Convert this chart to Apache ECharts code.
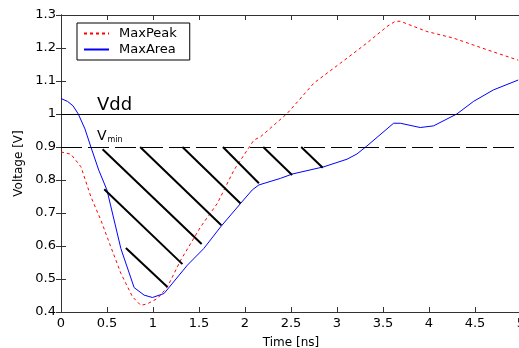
<!DOCTYPE html>
<html>
<head>
<meta charset="utf-8">
<script src="https://cdn.jsdelivr.net/npm/echarts@6/dist/echarts.min.js"></script>
<style>
  html, body { margin: 0; padding: 0; background: #fff; }
  #chart { width: 519px; height: 348px; }
</style>
</head>
<body>
<div id="chart"></div>
<script>
// time [ns] / voltage [V]
const peakT = [0, 0.108, 0.217, 0.325, 0.434, 0.542, 0.651, 0.777, 0.868, 0.94, 1.049, 1.157, 1.301, 1.518, 1.699, 1.88, 2.097, 2.169, 2.46, 2.75, 3.037, 3.325, 3.543, 3.633, 3.688, 3.977, 4.266, 4.628, 4.97];
const peakV = [0.885, 0.878, 0.84, 0.749, 0.678, 0.597, 0.517, 0.446, 0.42, 0.425, 0.441, 0.476, 0.557, 0.658, 0.729, 0.83, 0.921, 0.931, 1.002, 1.094, 1.154, 1.215, 1.265, 1.281, 1.281, 1.25, 1.23, 1.195, 1.163];

const areaT = [0, 0.072, 0.13, 0.188, 0.26, 0.325, 0.41, 0.499, 0.651, 0.795, 0.904, 0.994, 1.12, 1.374, 1.551, 1.735, 1.952, 2.079, 2.151, 2.386, 2.513, 2.856, 3.109, 3.217, 3.325, 3.615, 3.688, 3.905, 4.049, 4.302, 4.483, 4.7, 4.97];
const areaV = [1.047, 1.038, 1.025, 1.0, 0.955, 0.9, 0.83, 0.77, 0.592, 0.474, 0.451, 0.444, 0.456, 0.542, 0.592, 0.658, 0.729, 0.77, 0.785, 0.805, 0.818, 0.84, 0.863, 0.879, 0.903, 0.972, 0.972, 0.959, 0.964, 1.0, 1.038, 1.073, 1.103];

// hatch strokes between Vmin and the curve: [t1, v1, t2, v2]
const hatch = [
  [0.452, 0.893, 1.529, 0.606],
  [0.86, 0.9, 1.743, 0.663],
  [1.32, 0.9, 1.952, 0.729],
  [0.47, 0.772, 1.32, 0.545],
  [0.705, 0.594, 1.157, 0.476],
  [1.76, 0.9, 2.151, 0.79],
  [2.198, 0.9, 2.512, 0.815],
  [2.611, 0.9, 2.845, 0.837]
];

const vdd = 1.0;
const vmin = 0.9;

const font = 'DejaVu Sans';
const zip = (xs, ys) => xs.map((x, i) => [x, ys[i]]);

const chart = echarts.init(document.getElementById('chart'));

const sideAxis = {
  axisLine: { show: true, lineStyle: { color: '#333' } },
  axisTick: { show: true, inside: true, length: 5, lineStyle: { color: '#333' } },
  axisLabel: { show: false },
  splitLine: { show: false }
};

chart.setOption({
  animation: false,
  backgroundColor: '#fff',
  grid: { left: 61, right: -2, top: 15, bottom: 36, outerBoundsMode: 'none', containLabel: false },
  legend: {
    data: ['MaxPeak', 'MaxArea'],
    orient: 'vertical',
    left: 77,
    top: 23,
    padding: [4, 13, 4, 6],
    itemGap: 3,
    itemWidth: 25,
    itemHeight: 14,
    itemStyle: { opacity: 0 },
    borderColor: '#000',
    borderWidth: 1,
    borderRadius: 0,
    backgroundColor: '#fff',
    textStyle: { fontFamily: font, fontSize: 13, color: '#000', padding: [0, 0, 0, 5] }
  },
  xAxis: [
    {
      type: 'value', min: 0, max: 5, interval: 0.5,
      name: 'Time [ns]', nameLocation: 'middle', nameGap: 25,
      nameTextStyle: { fontFamily: font, fontSize: 12, color: '#000' },
      axisLine: { show: true, lineStyle: { color: '#333' } },
      axisTick: { show: true, inside: true, length: 5, lineStyle: { color: '#333' } },
      axisLabel: { fontFamily: font, fontSize: 13, color: '#000', margin: 5 },
      splitLine: { show: false }
    },
    Object.assign({ type: 'value', min: 0, max: 5, interval: 0.5, position: 'top' }, sideAxis)
  ],
  yAxis: [
    {
      type: 'value', min: 0.4, max: 1.3, interval: 0.1,
      name: 'Voltage [V]', nameLocation: 'middle', nameGap: 31,
      nameTextStyle: { fontFamily: font, fontSize: 12, color: '#000' },
      axisLine: { show: true, lineStyle: { color: '#333' } },
      axisTick: { show: true, inside: true, length: 5, lineStyle: { color: '#333' } },
      axisLabel: { fontFamily: font, fontSize: 13, color: '#000', margin: 5 },
      splitLine: { show: false }
    },
    Object.assign({ type: 'value', min: 0.4, max: 1.3, interval: 0.1, position: 'right' }, sideAxis)
  ],
  series: [
    {
      name: 'MaxPeak',
      type: 'line',
      data: zip(peakT, peakV),
      showSymbol: false,
      symbol: 'none',
      lineStyle: { color: '#ff0000', width: 1, type: [3, 3] },
      itemStyle: { color: '#ff0000' },
      z: 3
    },
    {
      name: 'MaxArea',
      type: 'line',
      data: zip(areaT, areaV),
      showSymbol: false,
      symbol: 'none',
      lineStyle: { color: '#0000ff', width: 1 },
      itemStyle: { color: '#0000ff' },
      z: 3
    },
    {
      name: 'levels',
      type: 'line',
      data: [],
      markLine: {
        silent: true,
        symbol: 'none',
        animation: false,
        data: [
          {
            yAxis: vdd,
            lineStyle: { color: '#000', width: 1, type: 'solid' },
            label: {
              show: true, position: 'insideStartTop', distance: 0,
              padding: [0, 0, 0, 36],
              formatter: 'Vdd', fontFamily: font, fontSize: 18, color: '#000'
            }
          },
          {
            yAxis: vmin,
            lineStyle: { color: '#000', width: 1, type: [21, 6] },
            label: {
              show: true, position: 'insideStartTop', distance: 3,
              padding: [0, 0, 0, 33],
              formatter: '{v|V}{s|min}',
              rich: {
                v: { fontFamily: font, fontSize: 14, color: '#000' },
                s: { fontFamily: font, fontSize: 8, color: '#000', padding: [8, 0, 0, 1] }
              }
            }
          }
        ]
      }
    },
    {
      name: 'hatch',
      type: 'line',
      data: [],
      markLine: {
        silent: true,
        symbol: 'none',
        animation: false,
        label: { show: false },
        lineStyle: { color: '#000', width: 2, type: 'solid' },
        data: hatch.map(h => [{ coord: [h[0], h[1]] }, { coord: [h[2], h[3]] }])
      }
    }
  ]
});
</script>
</body>
</html>
